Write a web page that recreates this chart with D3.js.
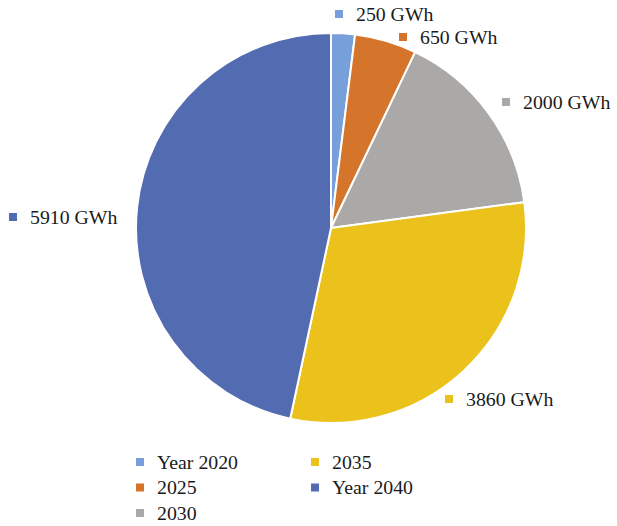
<!DOCTYPE html>
<html>
<head>
<meta charset="utf-8">
<script src="https://cdn.jsdelivr.net/npm/d3@7"></script>
<style>
  html, body { margin: 0; padding: 0; background: #ffffff; }
  svg text { font-family: "Liberation Serif", "DejaVu Serif", serif; fill: #1a1a1a; }
</style>
</head>
<body>
<svg id="chart" width="617" height="526"></svg>
<script>
// Energy per period (GWh)
const categories = ["Year 2020", "2025", "2030", "2035", "Year 2040"];
const values = [250, 650, 2000, 3860, 5910];
const valueLabels = ["250 GWh", "650 GWh", "2000 GWh", "3860 GWh", "5910 GWh"];
const colors = ["#779fd9", "#d5742b", "#aaa9a8", "#ebc11c", "#536cb1"];

const svg = d3.select("#chart");
const cx = 331, cy = 228, radius = 195;

const pie = d3.pie().sort(null).value(d => d)
  .startAngle(0).endAngle(2 * Math.PI);
const arcs = pie(values);
const arc = d3.arc().innerRadius(0).outerRadius(radius);

const g = svg.append("g").attr("transform", `translate(${cx},${cy})`);
g.selectAll("path")
  .data(arcs)
  .join("path")
  .attr("d", arc)
  .attr("fill", (d, i) => colors[i])
  .attr("stroke", "#ffffff")
  .attr("stroke-width", 2)
  .attr("stroke-linejoin", "round");

// Data labels placed outside the pie, nudged per slice
const labelPos = [
  { x: 335, y: 10 },
  { x: 399, y: 33 },
  { x: 502, y: 98 },
  { x: 445, y: 395 },
  { x: 9, y: 213 }
];
const lab = svg.append("g").selectAll("g")
  .data(arcs)
  .join("g")
  .attr("transform", (d, i) => `translate(${labelPos[i].x},${labelPos[i].y})`);
lab.append("rect")
  .attr("width", 8).attr("height", 8)
  .attr("fill", (d, i) => colors[i]);
lab.append("text")
  .attr("x", 21).attr("y", 4)
  .attr("dy", "0.35em")
  .attr("font-size", 19.8)
  .text((d, i) => valueLabels[i]);

// Legend in two columns
const legendX = [136, 311];
const legendY0 = 462, legendDy = 25.5;
const legend = svg.append("g").selectAll("g")
  .data(categories)
  .join("g")
  .attr("transform", (d, i) => {
    const col = i < 3 ? 0 : 1;
    const row = i < 3 ? i : i - 3;
    return `translate(${legendX[col]},${legendY0 + row * legendDy})`;
  });
legend.append("rect")
  .attr("x", 0).attr("y", -4)
  .attr("width", 8).attr("height", 8)
  .attr("fill", (d, i) => colors[i]);
legend.append("text")
  .attr("x", 21).attr("y", 0)
  .attr("dy", "0.35em")
  .attr("font-size", 19.8)
  .text(d => d);
</script>
</body>
</html>
